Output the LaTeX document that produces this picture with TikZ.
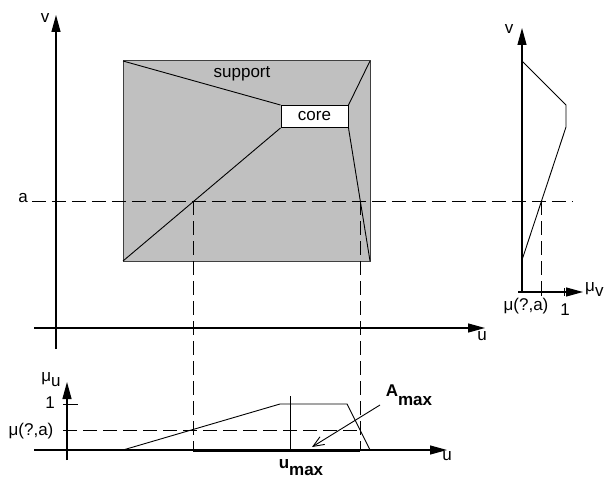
\documentclass[tikz,border=0pt]{standalone}
\usepackage{fontspec}
\setmainfont{Liberation Sans}
\usetikzlibrary{arrows.meta,positioning}
\definecolor{supportGray}{RGB}{192,192,192}
\definecolor{edgeGray}{RGB}{64,64,64}
\newcommand{\lowsub}[2][6pt]{\raisebox{-#1}{#2}}

\begin{document}
\begin{tikzpicture}[x=1pt,y=-1pt,
    axis/.style={line width=1.2pt,-{Triangle[length=17pt,width=9pt]}},
    guide/.style={line width=0.9pt,dash pattern=on 14pt off 6pt},
    curve/.style={line width=0.9pt},
    lbl/.style={font=\fontsize{17}{20}\selectfont,inner sep=0pt}]
  \useasboundingbox (0,0) rectangle (604,481);
  % support / core in the (u,v) plane
  \coordinate (sTL) at (123,61);
  \coordinate (sTR) at (370,61);
  \coordinate (sBL) at (123,261);
  \coordinate (sBR) at (370,261);
  \filldraw[fill=supportGray,draw=edgeGray,line width=1pt] (sTL) rectangle (sBR);
  \node[lbl,draw,fill=white,line width=1pt,minimum width=67pt,minimum height=22pt,
    anchor=north west] (core) at (280.5,105) {core};
  \draw[curve] (sTL) -- (core.north west);
  \draw[curve] (sBL) -- (core.south west);
  \draw[curve] (sTR) -- (core.north east);
  \draw[curve] (core.south east) -- (sBR);
  \node[lbl] (support) at (242,74) {support};
  % main axes
  \coordinate (vFoot) at (56,349);
  \coordinate (vTip) at (56,15);
  \coordinate (uStart) at (34,328);
  \coordinate (uTip) at (485,328);
  \draw[axis] (vFoot) -- (vTip);
  \draw[axis] (uStart) -- (uTip);
  \node[lbl] (vLab) at (45,18) {v};
  \node[lbl] (uLab) at (482,336) {u};
  % cut at v = a
  \node[lbl] (aLab) at (23,198) {a};
  \coordinate (aEnd) at (572,201);
  \draw[guide] (aLab.east |- aEnd) ++(4,0) -- (aEnd);
  \coordinate (cutL) at (193,201);
  \coordinate (cutR) at (360,201);
  \coordinate (cutLb) at (193,450);
  \coordinate (cutRb) at (360,450);
  \draw[guide] (cutL) -- (cutLb);
  \draw[guide] (cutR) -- (cutRb);
  % membership in v
  \coordinate (mvO) at (522,292);
  \coordinate (mvTip) at (522,28);
  \coordinate (mvStart) at (518,292);
  \coordinate (mvRight) at (583,292);
  \draw[axis] (mvO) -- (mvTip);
  \draw[axis] (mvStart) -- (mvRight);
  \node[lbl] (vLabR) at (509,29) {v};
  \node[lbl,anchor=west] (muV) at (585,290) {μ\lowsub[5pt]{v}};
  \draw[curve] (564,288) -- (564,296);
  \draw[curve] (541,288) -- (541,296);
  \draw[guide] (541,201) -- (541,292);
  \draw[curve] (522,61) -- (566,105) -- (566,127) -- (522,260);
  \node[lbl] (muaR) at (526,306) {μ(?,a)};
  \node[lbl] (oneR) at (565,310) {1};
  % membership in u
  \coordinate (muO) at (67,460);
  \coordinate (muTip) at (67,382);
  \coordinate (buStart) at (34,450);
  \coordinate (buTip) at (447,450);
  \draw[axis] (muO) -- (muTip);
  \draw[axis] (buStart) -- (buTip);
  \node[lbl] (muU) at (51,380) {μ\lowsub[5pt]{u}};
  \node[lbl] (buLab) at (447,456) {u};
  \draw[curve] (63,404) -- (78,404);
  \node[lbl] (oneB) at (50,403) {1};
  \node[lbl] (muaB) at (31,431) {μ(?,a)};
  \draw[guide] (63,430) -- (360,430);
  \draw[curve] (123,450) -- (280,404) -- (347,404) -- (370,450);
  \draw[curve] (290,396) -- (290,452);
  \draw[line width=3pt] (cutLb) -- (cutRb);
  \node[lbl,font=\fontsize{17}{20}\selectfont\bfseries] (uMax) at (301,468) {u\lowsub[7pt]{max}};
  \node[lbl,font=\fontsize{17}{20}\selectfont\bfseries] (aMax) at (409,395) {A\lowsub[9pt]{max}};
  \coordinate (aMaxPt) at (312,447);
  \draw[curve,-{Straight Barb[length=11pt,width=9pt]}] (380,405) -- (aMaxPt);
\end{tikzpicture}
\end{document}
